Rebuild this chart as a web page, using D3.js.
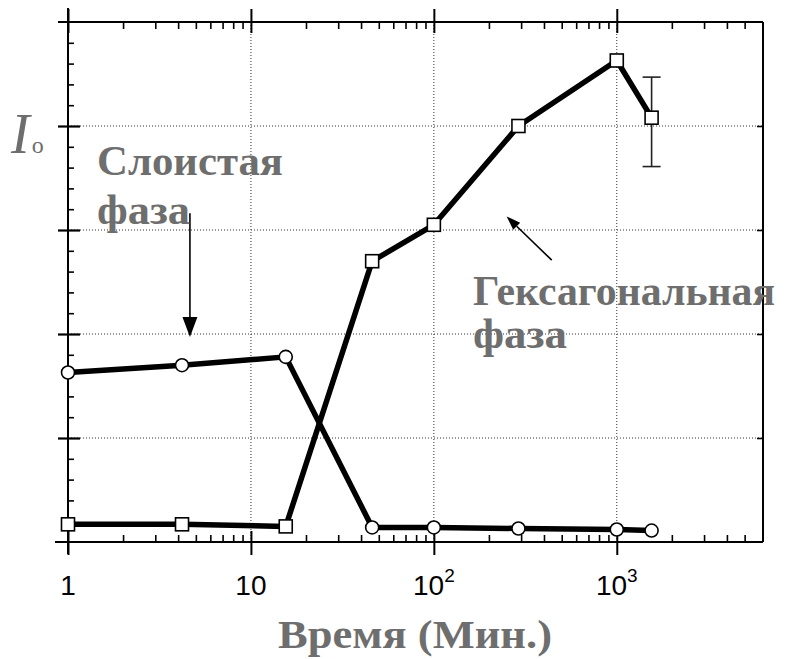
<!DOCTYPE html>
<html>
<head>
<meta charset="utf-8">
<script src="https://cdn.jsdelivr.net/npm/d3@7"></script>
<style>
    body { margin: 0; background: #fff; }
</style>
</head>
<body>
<div id="chart"></div>
<script>
// values (x in minutes, y in arbitrary units 0..5)
var times = [1, 4.2, 15.5, 46, 100, 290, 1000, 1550];
var layered = [1.63, 1.70, 1.78, 0.14, 0.14, 0.13, 0.12, 0.11];
var hexagonal = [0.17, 0.17, 0.15, 2.70, 3.05, 4.00, 4.63, 4.08];
var hexErrLow = [null, null, null, null, null, null, null, 3.61];
var hexErrHigh = [null, null, null, null, null, null, null, 4.47];

var decades = [1, 10, 100, 1000];
var decadeBase = ["1", "10", "10", "10"];
var decadeSup = ["", "", "2", "3"];
var gridX = [10, 100, 1000];
var gridY = [1, 2, 3, 4];

var width = 787, height = 659;
var grey = "#6e6e6e";
var serif = "'Liberation Serif', 'DejaVu Serif', serif";

var svg = d3.select("#chart").append("svg")
    .attr("width", width)
    .attr("height", height);

var x = d3.scaleLog().domain([1, 6300]).range([68, 763]);
var y = d3.scaleLinear().domain([0, 5]).range([542, 22]);

var minorX = x.ticks().filter(function(t) { return decades.indexOf(t) < 0 && t < 6000; });
var minorY = y.ticks(25).filter(function(v) { return Math.round(v * 5) % 5 != 0; });

// dotted grid
var grid = svg.append("g")
    .attr("stroke", "#333")
    .attr("stroke-width", 1)
    .attr("stroke-dasharray", "1,2");
grid.selectAll(".gx").data(gridX).enter().append("line")
    .attr("x1", function(d) { return x(d); })
    .attr("x2", function(d) { return x(d); })
    .attr("y1", y(5))
    .attr("y2", y(0));
grid.selectAll(".gy").data(gridY).enter().append("line")
    .attr("x1", x(1))
    .attr("x2", x(6300))
    .attr("y1", function(d) { return y(d); })
    .attr("y2", function(d) { return y(d); });

// axes
function styleAxis(g) {
    g.select(".domain").remove();
    g.selectAll(".tick line").attr("stroke", "#000").attr("stroke-width", 1.6);
}

svg.append("g")
    .attr("transform", "translate(0," + y(0) + ")")
    .call(d3.axisBottom(x).tickValues(minorX).tickSize(-7).tickFormat(""))
    .call(styleAxis);
svg.append("g")
    .attr("transform", "translate(0," + y(0) + ")")
    .call(d3.axisBottom(x).tickValues(decades).tickSize(13).tickSizeOuter(0).tickFormat(""))
    .call(styleAxis)
    .selectAll(".tick line").attr("y1", -11).attr("stroke-width", 2);

svg.append("g")
    .attr("transform", "translate(0," + y(5) + ")")
    .call(d3.axisTop(x).tickValues(minorX).tickSize(-7).tickFormat(""))
    .call(styleAxis);
svg.append("g")
    .attr("transform", "translate(0," + y(5) + ")")
    .call(d3.axisTop(x).tickValues(decades).tickSize(13).tickFormat(""))
    .call(styleAxis)
    .selectAll(".tick line").attr("y1", 11).attr("stroke-width", 2);

svg.append("g")
    .attr("transform", "translate(" + x(1) + ",0)")
    .call(d3.axisLeft(y).tickValues(minorY).tickSize(-6).tickFormat(""))
    .call(styleAxis);
svg.append("g")
    .attr("transform", "translate(" + x(1) + ",0)")
    .call(d3.axisLeft(y).tickValues(gridY).tickSize(10).tickFormat(""))
    .call(styleAxis)
    .selectAll(".tick line").attr("x1", 12).attr("stroke-width", 2.2);

svg.append("g")
    .attr("transform", "translate(" + x(6300) + ",0)")
    .call(d3.axisRight(y).tickValues(gridY).tickSize(-6).tickFormat(""))
    .call(styleAxis);

// frame
var frame = svg.append("g").attr("stroke", "#000").attr("stroke-width", 2);
frame.append("line").attr("x1", 58).attr("x2", x(6300)).attr("y1", y(5)).attr("y2", y(5));
frame.append("line").attr("x1", 55).attr("x2", x(6300)).attr("y1", y(0)).attr("y2", y(0));
frame.append("line").attr("x1", x(1)).attr("x2", x(1)).attr("y1", 8).attr("y2", y(0) + 12);
frame.append("line").attr("x1", x(6300)).attr("x2", x(6300)).attr("y1", y(5)).attr("y2", y(0));

// decade labels
var lab = svg.append("g")
    .attr("font-family", "'Liberation Sans', Arial, sans-serif")
    .attr("fill", "#000");
decades.forEach(function(d, i) {
    var t = lab.append("text")
        .attr("x", x(d))
        .attr("y", 595)
        .attr("text-anchor", "middle")
        .attr("font-size", 28);
    t.append("tspan").text(decadeBase[i]);
    if (decadeSup[i]) {
        t.append("tspan")
            .attr("font-size", 19)
            .attr("dy", -13)
            .text(decadeSup[i]);
    }
});

// series
var pts = times.map(function(t, i) {
    return { t: t, a: layered[i], b: hexagonal[i], lo: hexErrLow[i], hi: hexErrHigh[i] };
});

var lineA = d3.line().x(function(d) { return x(d.t); }).y(function(d) { return y(d.a); });
var lineB = d3.line().x(function(d) { return x(d.t); }).y(function(d) { return y(d.b); });

svg.append("path")
    .attr("d", lineA(pts))
    .attr("fill", "none")
    .attr("stroke", "#000")
    .attr("stroke-width", 5.5)
    .attr("stroke-linejoin", "round");
svg.append("path")
    .attr("d", lineB(pts))
    .attr("fill", "none")
    .attr("stroke", "#000")
    .attr("stroke-width", 5.5)
    .attr("stroke-linejoin", "round");

// error bar
var eb = svg.append("g").attr("stroke", "#222").attr("stroke-width", 1.6);
pts.filter(function(d) { return d.lo != null; }).forEach(function(d) {
    eb.append("line").attr("x1", x(d.t)).attr("x2", x(d.t)).attr("y1", y(d.hi)).attr("y2", y(d.lo));
    eb.append("line").attr("x1", x(d.t) - 9).attr("x2", x(d.t) + 9).attr("y1", y(d.hi)).attr("y2", y(d.hi));
    eb.append("line").attr("x1", x(d.t) - 9).attr("x2", x(d.t) + 9).attr("y1", y(d.lo)).attr("y2", y(d.lo));
});

svg.append("g").selectAll("circle")
    .data(pts).enter().append("circle")
    .attr("cx", function(d) { return x(d.t); })
    .attr("cy", function(d) { return y(d.a); })
    .attr("r", 6.5)
    .attr("fill", "#fff")
    .attr("stroke", "#000")
    .attr("stroke-width", 1.6);

svg.append("g").selectAll("rect")
    .data(pts).enter().append("rect")
    .attr("x", function(d) { return x(d.t) - 6.5; })
    .attr("y", function(d) { return y(d.b) - 6.5; })
    .attr("width", 13)
    .attr("height", 13)
    .attr("fill", "#fff")
    .attr("stroke", "#000")
    .attr("stroke-width", 1.6);

// arrows
function arrow(t0, v0, t1, v1, head, half) {
    var x0 = x(t0), y0 = y(v0), x1 = x(t1), y1 = y(v1);
    var a = Math.atan2(y1 - y0, x1 - x0);
    var bx = x1 - head * Math.cos(a), by = y1 - head * Math.sin(a);
    svg.append("line")
        .attr("x1", x0).attr("y1", y0).attr("x2", bx).attr("y2", by)
        .attr("stroke", "#000").attr("stroke-width", 1.6);
    svg.append("path")
        .attr("d", "M" + x1 + "," + y1 +
            "L" + (bx + half * Math.sin(a)) + "," + (by - half * Math.cos(a)) +
            "L" + (bx - half * Math.sin(a)) + "," + (by + half * Math.cos(a)) + "Z")
        .attr("fill", "#000");
}
arrow(4.64, 3.16, 4.64, 1.97, 20, 7.5);
arrow(441, 2.71, 250, 3.13, 14, 5);

// annotations
var ann = svg.append("g")
    .style("font-family", serif)
    .style("font-weight", "bold")
    .attr("fill", grey);
function note(tx, ty, size, len, s) {
    ann.append("text")
        .attr("x", tx).attr("y", ty)
        .attr("font-size", size)
        .attr("textLength", len)
        .attr("lengthAdjust", "spacingAndGlyphs")
        .text(s);
}
note(97, 175, 42, 186, "Слоистая");
note(97, 224, 42, 93, "фаза");
note(473, 305, 42, 302, "Гексагональная");
note(473, 348, 42, 94, "фаза");
note(278, 648, 41, 274, "Время (Мин.)");

var yl = svg.append("text")
    .attr("x", 11)
    .attr("y", 153)
    .style("font-family", serif)
    .attr("fill", grey);
yl.append("tspan").attr("font-size", 56).attr("font-style", "italic").text("I");
yl.append("tspan").attr("font-size", 24).attr("dx", 2).text("o");
</script>
</body>
</html>
